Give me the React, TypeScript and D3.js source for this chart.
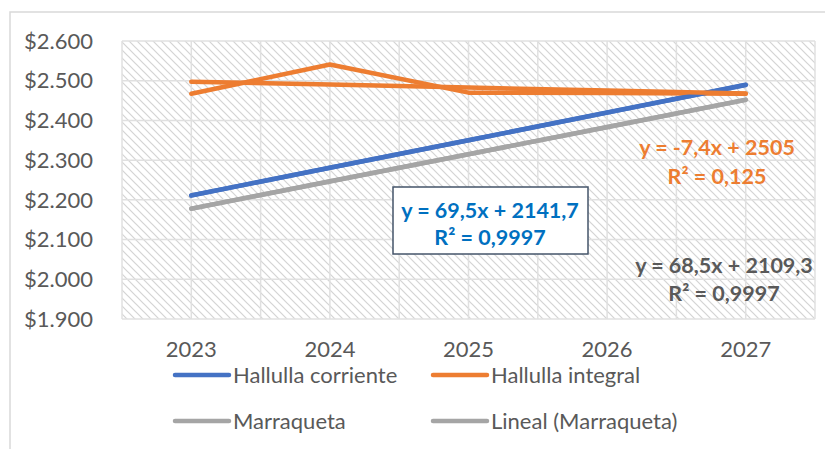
import { useEffect, useRef } from 'react';
import * as d3 from 'd3';

// data
const years = ['2023', '2024', '2025', '2026', '2027'];
const halCorriente = [2211, 2281, 2350, 2420, 2490];
const halIntegral = [2467, 2541, 2470, 2469, 2467];
const marraqueta = [2178, 2247, 2315, 2383, 2452];
const yTicks = [1900, 2000, 2100, 2200, 2300, 2400, 2500, 2600];

const trendCorriente = { slope: 69.5, intercept: 2141.7, eq: 'y = 69,5x + 2141,7', r2: '0,9997' };
const trendIntegral = { slope: -7.4, intercept: 2505, eq: 'y = -7,4x + 2505', r2: '0,125' };
const trendMarraqueta = { slope: 68.5, intercept: 2109.3, eq: 'y = 68,5x + 2109,3', r2: '0,9997' };

const BLUE = '#4472c4';
const ORANGE = '#ed7d31';
const GRAY = '#a5a5a5';
const TEXT = '#595959';
const FONT = "Lato, 'Open Sans', sans-serif";

const App = () => {
    const ref = useRef<SVGSVGElement>(null);

    useEffect(() => {
        const svg = d3.select(ref.current);
        svg.selectAll('*').remove();

        const width = 825;
        const height = 449;
        const plot = { left: 122, right: 815, top: 41, bottom: 319 };

        const defs = svg.append('defs');
        const pat = defs.append('pattern')
            .attr('id', 'hatch')
            .attr('patternUnits', 'userSpaceOnUse')
            .attr('width', 8)
            .attr('height', 8);
        pat.append('rect').attr('width', 8).attr('height', 8).attr('fill', '#fff');
        pat.append('path')
            .attr('d', 'M0,0 L8,8 M-2,6 L2,10 M6,-2 L10,2')
            .attr('stroke', '#d4d4d4')
            .attr('stroke-width', 1.2);

        svg.append('rect').attr('width', width).attr('height', height).attr('fill', '#fff');
        // chart area border
        svg.append('rect')
            .attr('x', 10).attr('y', 12)
            .attr('width', 840).attr('height', 460)
            .attr('fill', 'none')
            .attr('stroke', '#d9d9d9')
            .attr('stroke-width', 1.5);

        const x = d3.scaleBand().domain(years).range([plot.left, plot.right]).padding(0);
        const y = d3.scaleLinear().domain([1900, 2600]).range([plot.bottom, plot.top]);
        const cx = (d: string) => (x(d) as number) + x.bandwidth() / 2;

        svg.append('rect')
            .attr('x', plot.left).attr('y', plot.top)
            .attr('width', plot.right - plot.left)
            .attr('height', plot.bottom - plot.top)
            .attr('fill', 'url(#hatch)');

        // gridlines
        const grid = svg.append('g').attr('stroke', '#e0e0e0').attr('stroke-width', 1.5);
        grid.selectAll('.hg')
            .data(yTicks)
            .enter()
            .append('line')
            .attr('x1', plot.left).attr('x2', plot.right)
            .attr('y1', d => y(d)).attr('y2', d => y(d));
        const vx: number[] = [];
        years.forEach(d => { vx.push(x(d) as number); vx.push(cx(d)); });
        vx.push(plot.right);
        grid.selectAll('.vg')
            .data(vx)
            .enter()
            .append('line')
            .attr('x1', d => d).attr('x2', d => d)
            .attr('y1', plot.top).attr('y2', plot.bottom);

        // axis labels
        svg.append('g')
            .selectAll('text')
            .data(yTicks)
            .enter()
            .append('text')
            .attr('x', 93)
            .attr('y', d => y(d))
            .attr('dy', '0.35em')
            .attr('text-anchor', 'end')
            .attr('font-family', FONT)
            .attr('font-size', 22)
            .attr('fill', TEXT)
            .text(d => '$' + d3.format(',')(d).replace(',', '.'));

        svg.append('g')
            .selectAll('text')
            .data(years)
            .enter()
            .append('text')
            .attr('x', d => cx(d))
            .attr('y', 357)
            .attr('text-anchor', 'middle')
            .attr('font-family', FONT)
            .attr('font-size', 22)
            .attr('fill', TEXT)
            .text(d => d);

        const line = d3.line<number>()
            .x((_, i) => cx(years[i]))
            .y(d => y(d));

        const trend = (t: { slope: number; intercept: number }) =>
            years.map((_, i) => t.slope * (i + 1) + t.intercept);

        const series: [number[], string][] = [
            [halCorriente, BLUE],
            [halIntegral, ORANGE],
            [marraqueta, GRAY],
            [trend(trendCorriente), BLUE],
            [trend(trendIntegral), ORANGE],
            [trend(trendMarraqueta), GRAY],
        ];
        series.forEach(([vals, color]) => {
            svg.append('path')
                .datum(vals)
                .attr('d', line)
                .attr('fill', 'none')
                .attr('stroke', color)
                .attr('stroke-width', 4.5)
                .attr('stroke-linecap', 'round')
                .attr('stroke-linejoin', 'round');
        });

        // trendline labels
        const label = (lines: string[], color: string, xc: number, ys: number[]) => {
            lines.forEach((s, i) => {
                svg.append('text')
                    .attr('x', xc)
                    .attr('y', ys[i])
                    .attr('dy', '0.35em')
                    .attr('text-anchor', 'middle')
                    .attr('font-family', FONT)
                    .attr('font-weight', 700)
                    .attr('font-size', 21.5)
                    .attr('fill', color)
                    .text(s);
            });
        };

        svg.append('rect')
            .attr('x', 393).attr('y', 187)
            .attr('width', 195).attr('height', 67)
            .attr('fill', '#fff')
            .attr('stroke', '#44546a')
            .attr('stroke-width', 1.5);
        label([trendCorriente.eq, 'R² = ' + trendCorriente.r2], '#0070c0', 490, [210, 237]);
        label([trendIntegral.eq, 'R² = ' + trendIntegral.r2], ORANGE, 717, [147, 176]);
        label([trendMarraqueta.eq, 'R² = ' + trendMarraqueta.r2], TEXT, 724, [265, 293]);

        // legend
        const legend = [
            { name: 'Hallulla corriente', color: BLUE, x: 175, y: 375 },
            { name: 'Hallulla integral', color: ORANGE, x: 433, y: 375 },
            { name: 'Marraqueta', color: GRAY, x: 175, y: 421 },
            { name: 'Lineal (Marraqueta)', color: GRAY, x: 433, y: 421 },
        ];
        const lg = svg.append('g')
            .selectAll('g')
            .data(legend)
            .enter()
            .append('g')
            .attr('transform', d => `translate(${d.x},${d.y})`);
        lg.append('line')
            .attr('x1', 0).attr('x2', 54)
            .attr('stroke', d => d.color)
            .attr('stroke-width', 4.5)
            .attr('stroke-linecap', 'round');
        lg.append('text')
            .attr('x', 58)
            .attr('dy', '0.35em')
            .attr('font-family', FONT)
            .attr('font-size', 22)
            .attr('fill', TEXT)
            .text(d => d.name);
    }, []);

    return (
        <svg
            ref={ref}
            width={825}
            height={449}
            style={{ position: 'absolute', left: 0, top: 0, display: 'block' }}
        />
    );
};

export default App;
